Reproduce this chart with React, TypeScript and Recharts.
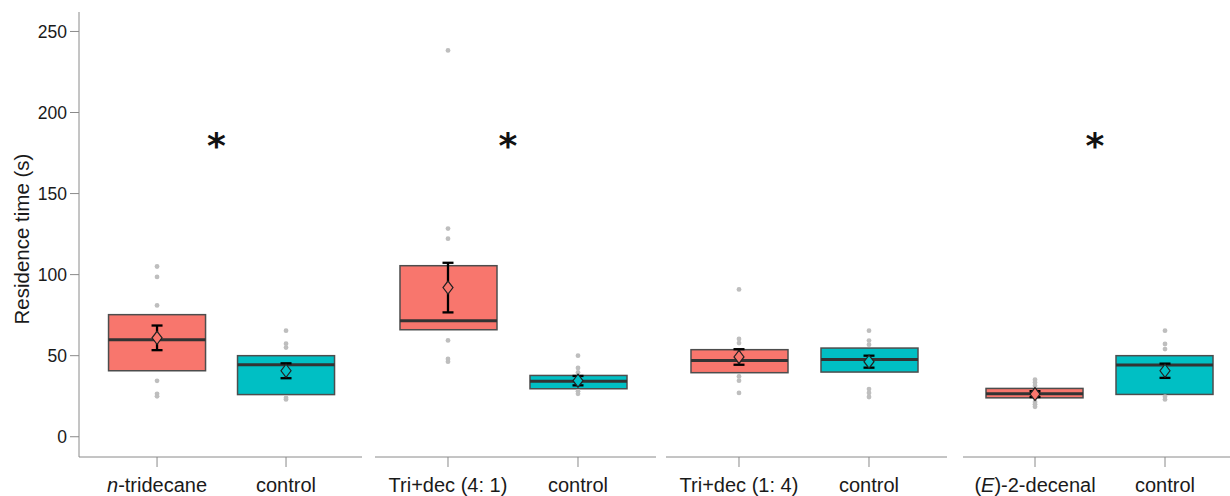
import { ComposedChart, Bar, Scatter, XAxis, YAxis, ErrorBar, ReferenceDot } from "recharts";

// x labels: [text, italic] segments
const treatmentLabels: [string, boolean][][] = [
  [["n", true], ["-tridecane", false]],
  [["Tri+dec (4: 1)", false]],
  [["Tri+dec (1: 4)", false]],
  [["(", false], ["E", true], [")-2-decenal", false]],
];
const controlLabel = "control";

// treatment boxes
const treatQ1 = [40.7, 66, 39.5, 24];
const treatMedian = [59.9, 71.6, 47.1, 26.5];
const treatQ3 = [75.3, 105.5, 53.7, 29.8];
const treatMean = [61, 92, 49.2, 26.3];
const treatSE = [7.6, 15.3, 4.8, 1.8];
const treatPoints = [
  [105, 98.6, 81, 34.5, 26.5, 24.9],
  [238.3, 128.4, 122.2, 59.4, 48, 46.3],
  [90.9, 60.3, 57.8, 37.2, 34.6, 27],
  [35.2, 33.5, 31.5, 21.5, 20, 18.5],
];

// control boxes
const ctrlQ1 = [26, 29.6, 39.9, 26.1];
const ctrlMedian = [44.4, 34.2, 47.7, 44.2];
const ctrlQ3 = [50, 37.8, 54.7, 50];
const ctrlMean = [40.7, 34.6, 46.3, 40.7];
const ctrlSE = [4.6, 2.9, 3.7, 4.4];
const ctrlPoints = [
  [65.4, 57.4, 55, 24, 23],
  [50, 42.4, 39.7, 28, 26.5],
  [65.4, 59.3, 56.8, 29.4, 27, 24.5],
  [65.4, 57.2, 54.1, 24.7, 23],
];

const significant = [true, true, false, true];
const starX = 1.46;
const starValue = 184.5;
const yTicks = [0, 50, 100, 150, 200, 250];

const RED = "#F8766D";
const TEAL = "#00BFC4";
const AXIS = "#8a8a8a";
const FONT = "'Liberation Sans', Arial, sans-serif";

const PANELS = [
  { left: 79, right: 362, domain: [0.395, 2.589] },
  { left: 375, right: 656, domain: [0.4385, 2.6] },
  { left: 666, right: 947, domain: [0.4385, 2.6] },
  { left: 963, right: 1230, domain: [0.446, 2.5] },
];

const BoxShape = (props: any) => {
  const { x, width, payload } = props;
  const y = Math.min(props.y, props.y + props.height);
  const h = Math.abs(props.height);
  const my = y + ((payload.q3 - payload.median) / (payload.q3 - payload.q1)) * h;
  return (
    <g>
      <rect x={x} y={y} width={width} height={h} fill={payload.fill} stroke="#4d4d4d" strokeWidth={1.5} />
      <line x1={x} x2={x + width} y1={my} y2={my} stroke="#333" strokeWidth={3} />
    </g>
  );
};

const Dot = (props: any) => <circle cx={props.cx} cy={props.cy} r={2.4} fill="#bebebe" />;

const Diamond = (props: any) => {
  const { cx, cy, payload } = props;
  return (
    <path
      d={`M${cx},${cy - 6.5}L${cx + 5},${cy}L${cx},${cy + 6.5}L${cx - 5},${cy}Z`}
      fill={payload.fill}
      stroke="#222"
      strokeWidth={1.2}
    />
  );
};

const Star = (props: any) => (
  <text x={props.cx} y={props.cy + 20} textAnchor="middle" fontSize={36} fontWeight="bold" fontFamily="'DejaVu Sans', sans-serif" fill="#111">
    *
  </text>
);

function Panel({ i }: { i: number }) {
  const first = i === 0;
  const p = PANELS[i];
  const yw = first ? 79 : 0;
  const divLeft = p.left - yw;
  const width = p.right - divLeft;

  const boxes = [
    { x: 1, range: [treatQ1[i], treatQ3[i]], q1: treatQ1[i], median: treatMedian[i], q3: treatQ3[i], fill: RED },
    { x: 2, range: [ctrlQ1[i], ctrlQ3[i]], q1: ctrlQ1[i], median: ctrlMedian[i], q3: ctrlQ3[i], fill: TEAL },
  ];
  const points = [
    ...treatPoints[i].map((v) => ({ x: 1, y: v })),
    ...ctrlPoints[i].map((v) => ({ x: 2, y: v })),
  ];
  const means = [
    { x: 1, mean: treatMean[i], se: treatSE[i], fill: RED },
    { x: 2, mean: ctrlMean[i], se: ctrlSE[i], fill: TEAL },
  ];

  const CatTick = (props: any) => {
    const { x, y, payload } = props;
    const segs: [string, boolean][] = payload.value === 1 ? treatmentLabels[i] : [[controlLabel, false]];
    return (
      <text x={x} y={y + 23} textAnchor="middle" fontSize={20} fontFamily={FONT} fill="#1a1a1a">
        {segs.map(([t, it], k) => (
          <tspan key={k} fontStyle={it ? "italic" : "normal"}>
            {t}
          </tspan>
        ))}
      </text>
    );
  };

  return (
    <div style={{ position: "absolute", left: divLeft, top: 0 }}>
      <ComposedChart width={width} height={496} data={boxes} margin={{ top: 12, right: 0, bottom: 0, left: 0 }}>
        <XAxis
          dataKey="x"
          type="number"
          domain={p.domain}
          ticks={[1, 2]}
          allowDataOverflow
          height={39}
          tickSize={10}
          stroke={AXIS}
          tick={<CatTick />}
        />
        <YAxis
          hide={!first}
          width={yw}
          type="number"
          domain={[-12.5, 262]}
          ticks={yTicks}
          allowDataOverflow
          tickSize={9}
          tickMargin={3}
          stroke={AXIS}
          tick={{ fill: "#1a1a1a", fontSize: 17.5, fontFamily: FONT }}
          label={{
            content: () => (
              <text
                x={28.5}
                y={239}
                transform="rotate(-90, 28.5, 239)"
                textAnchor="middle"
                fontSize={20.5}
                fontFamily={FONT}
                fill="#1a1a1a"
              >
                Residence time (s)
              </text>
            ),
          }}
        />
        <Bar dataKey="range" barSize={97} shape={BoxShape} isAnimationActive={false} />
        <Scatter data={points} dataKey="y" shape={Dot} isAnimationActive={false} />
        <Scatter data={means} dataKey="mean" shape={Diamond} isAnimationActive={false}>
          <ErrorBar dataKey="se" direction="y" width={5.5} stroke="#000" strokeWidth={2.3} />
        </Scatter>
        {significant[i] && <ReferenceDot x={starX} y={starValue} shape={Star} ifOverflow="visible" />}
      </ComposedChart>
    </div>
  );
}

export default function App() {
  return (
    <div style={{ position: "relative", width: 1230, height: 496, background: "#fff" }}>
      <style>{"body{margin:0}"}</style>
      {PANELS.map((_, i) => (
        <Panel key={i} i={i} />
      ))}
    </div>
  );
}
